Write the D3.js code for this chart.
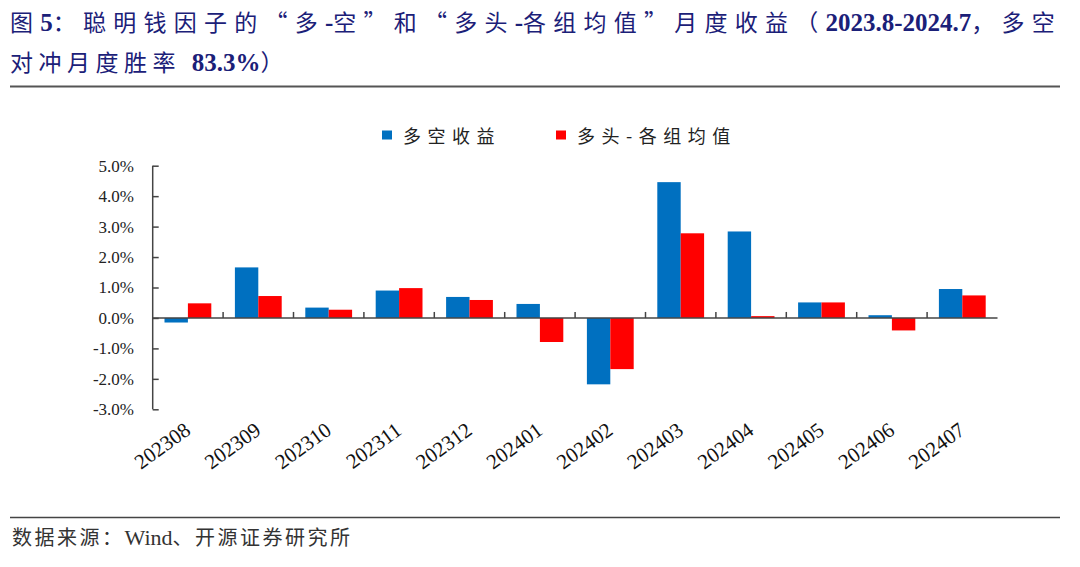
<!DOCTYPE html>
<html><head><meta charset="utf-8">
<script src="https://cdn.jsdelivr.net/npm/d3@7"></script>
<style>body{margin:0;background:#fff}svg{display:block}
.serif{font-family:"Liberation Serif","Tinos","DejaVu Serif",serif}
.cjk{font-family:"Noto Sans CJK SC",sans-serif}
</style>
</head><body>
<svg id="c" width="1080" height="567"></svg>
<script>
const categories = ["202308","202309","202310","202311","202312","202401","202402","202403","202404","202405","202406","202407"];
const longShort = [-0.15, 1.66, 0.34, 0.90, 0.69, 0.46, -2.18, 4.46, 2.84, 0.51, 0.09, 0.95];
const longMinusAvg = [0.48, 0.72, 0.27, 0.98, 0.59, -0.79, -1.68, 2.78, 0.06, 0.51, -0.41, 0.74];
const seriesNames = ["多空收益", "多头-各组均值"];
const seriesColors = ["#0070C0", "#FF0000"];
const yTicks = [-3, -2, -1, 0, 1, 2, 3, 4, 5];

const svg = d3.select("#c");
const titleColor = "#1b2078";

// Title
function titleLine(parts, yPos, targetWidth) {
  const t = svg.append("text").attr("x", 10).attr("y", yPos).attr("fill", titleColor);
  const spans = parts.map(([s, cls, w]) => t.append("tspan").attr("class", cls).attr("font-weight", w)
    .attr("font-size", cls === "serif" ? 25 : 23).text(s));
  if (targetWidth) {
    const base = t.node().getComputedTextLength();
    let n = 0;
    parts.forEach(([s, cls]) => { if (cls === "cjk") n += s.length; });
    const sp = (targetWidth - base) / n;
    spans.forEach((sEl, i) => { if (parts[i][1] === "cjk") sEl.attr("letter-spacing", sp); });
  }
  return t;
}
titleLine([["图", "cjk", 400], ["5", "serif", 700], ["：聪明钱因子的“多", "cjk", 400], ["-", "serif", 700], ["空”和“多头", "cjk", 400], ["-", "serif", 700],
 ["各组均值”月度收益（", "cjk", 400], ["2023.8-2024.7", "serif", 700], ["，多空", "cjk", 400]], 31, 1052);
titleLine([["对冲月度胜率 ", "cjk", 400], ["83.3%", "serif", 700], ["）", "cjk", 400]], 71, 0)
  .selectAll("tspan").filter(function () { return this.getAttribute("class") === "cjk"; }).attr("letter-spacing", 5.5);
svg.append("line").attr("x1", 10).attr("x2", 1060).attr("y1", 86.5).attr("y2", 86.5).attr("stroke", "#555").attr("stroke-width", 2);

// Scales
const x0 = d3.scaleBand().domain(categories).range([152.7, 997.5]).paddingInner(0).paddingOuter(0);
const x1 = d3.scaleBand().domain([0, 1]).range([11.8, x0.bandwidth() - 11.8]);
const y = d3.scaleLinear().domain([-3, 5]).range([409.3, 165.7]);

// Bars
const g = svg.append("g");
[longShort, longMinusAvg].forEach((vals, si) => {
  g.selectAll(null).data(vals).enter().append("rect")
    .attr("x", (d, i) => x0(categories[i]) + x1(si))
    .attr("width", x1.bandwidth())
    .attr("y", d => y(Math.max(0, d)))
    .attr("height", d => Math.abs(y(d) - y(0)))
    .attr("fill", seriesColors[si]);
});

// Y axis
const yAxis = d3.axisRight(y).tickValues(yTicks).tickSize(6).tickFormat(() => "");
const ya = svg.append("g").attr("transform", "translate(152.7,0)").call(yAxis);
ya.select(".domain").attr("d", `M0,${y(5)}V${y(-3)}`).attr("stroke", "#444").attr("stroke-width", 1.5);
ya.selectAll(".tick line").attr("stroke", "#444").attr("stroke-width", 1.5);
svg.append("g").selectAll("text").data(yTicks).enter().append("text")
  .attr("class", "serif")
  .attr("x", 134).attr("y", d => y(d)).attr("dy", "0.35em").attr("text-anchor", "end")
  .attr("font-size", 17).attr("fill", "#222")
  .text(d => d.toFixed(1) + "%");

// Zero axis with category ticks
const xAxis = d3.axisTop(x0).tickSize(0).tickFormat(() => "");
const xa = svg.append("g").attr("transform", `translate(0,${y(0)})`).call(xAxis);
xa.select(".domain").attr("d", `M152.7,0H997.5`).attr("stroke", "#444").attr("stroke-width", 1.5);
xa.selectAll(".tick").remove();
xa.selectAll(null).data(categories.slice(1)).enter().append("line")
  .attr("x1", d => x0(d)).attr("x2", d => x0(d)).attr("y1", 0).attr("y2", -6)
  .attr("stroke", "#444").attr("stroke-width", 1.5);

// X labels
svg.append("g").selectAll("text").data(categories).enter().append("text")
  .attr("class", "serif")
  .attr("transform", d => `translate(${x0(d) + x0.bandwidth() / 2 + 4},433) rotate(-36)`)
  .attr("text-anchor", "end").attr("font-size", 21).attr("fill", "#111")
  .text(d => d);

// Legend
const legendX = [382, 556];
seriesNames.forEach((n, i) => {
  svg.append("rect").attr("x", legendX[i]).attr("y", 130.5).attr("width", 10).attr("height", 9).attr("fill", seriesColors[i]);
  svg.append("text").attr("class", "cjk").attr("x", legendX[i] + 21).attr("y", 142.5).attr("font-size", 18)
    .attr("letter-spacing", 6.5).attr("fill", "#222").text(n);
});

// Footer
svg.append("line").attr("x1", 10).attr("x2", 1060).attr("y1", 517.5).attr("y2", 517.5).attr("stroke", "#444").attr("stroke-width", 1.5);
const ft = svg.append("text").attr("class", "cjk").attr("x", 12).attr("y", 545).attr("font-size", 20).attr("fill", "#333").attr("letter-spacing", 2.5);
ft.append("tspan").text("数据来源：");
ft.append("tspan").attr("class", "serif").attr("font-size", 22).attr("letter-spacing", 0).text("Wind");
ft.append("tspan").text("、开源证券研究所");
</script>
</body></html>
